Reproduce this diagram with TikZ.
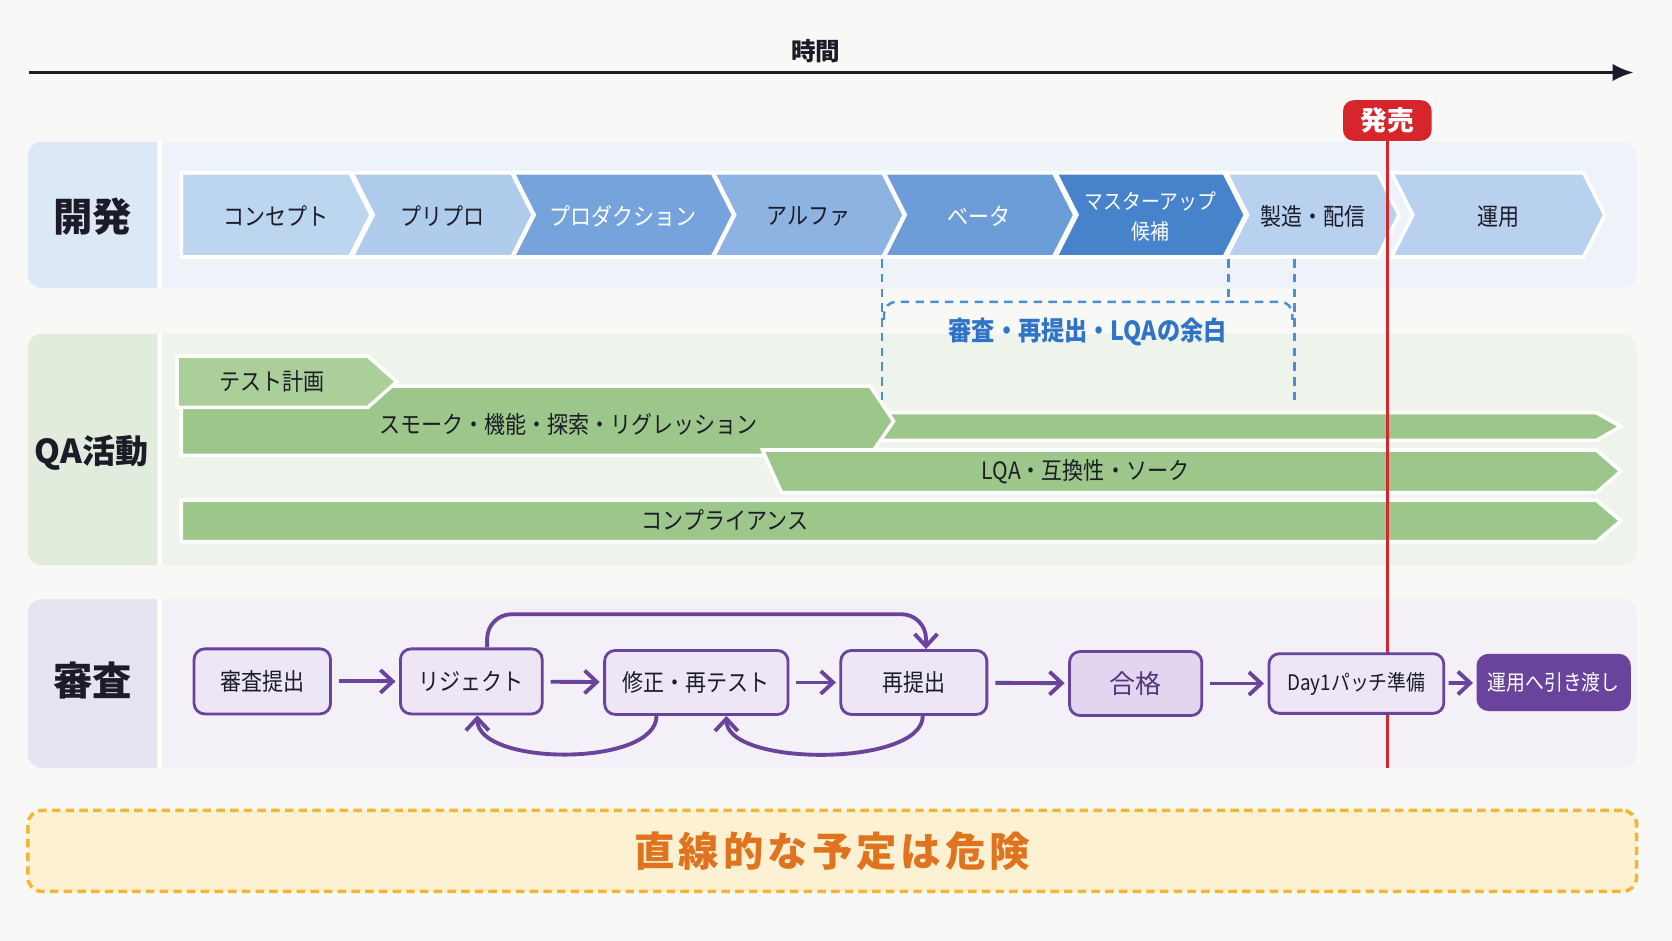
\documentclass[tikz,border=0pt]{standalone}
\usepackage{fontspec}
\setmainfont{Noto Sans CJK JP}[FakeStretch=0.88]
\newfontfamily\jpn{Noto Sans CJK JP}
\newfontfamily\jpw{Noto Sans CJK JP}[LetterSpace=10]
\usepackage{tikz}
\usetikzlibrary{arrows.meta}
\usepackage{xcolor}
\definecolor{bgc}{HTML}{F8F8F6}
\definecolor{ink}{HTML}{1C1C28}
\definecolor{devL}{HTML}{DCE8F6}
\definecolor{devR}{HTML}{EEF3FA}
\definecolor{qaL}{HTML}{E1ECDD}
\definecolor{qaR}{HTML}{EEF4EC}
\definecolor{revL}{HTML}{E8E3F0}
\definecolor{revR}{HTML}{F4F0F7}
\definecolor{ph1}{HTML}{BDD6EF}
\definecolor{ph2}{HTML}{B0CCEC}
\definecolor{ph3}{HTML}{76A3DB}
\definecolor{ph4}{HTML}{8DB3E2}
\definecolor{ph5}{HTML}{6D9DD8}
\definecolor{ph6}{HTML}{4683CB}
\definecolor{ph7}{HTML}{B7D1EE}
\definecolor{qag}{HTML}{9CC68A}
\definecolor{qag2}{HTML}{AACF98}
\definecolor{pur}{HTML}{6A449C}
\definecolor{revbox}{HTML}{EDE6F5}
\definecolor{passc}{HTML}{E1D5EF}
\definecolor{launchc}{HTML}{D7262B}
\definecolor{gapc}{HTML}{4A8ED8}
\definecolor{gaptx}{HTML}{2F74C6}
\definecolor{amber}{HTML}{F2B632}
\definecolor{cream}{HTML}{FDF1D4}
\definecolor{orng}{HTML}{E0731E}
\newcommand{\pxu}{0.3034pt}

\begin{document}
\begin{tikzpicture}[x=0.010663cm, y=-0.010663cm, every node/.style={inner sep=0pt, font=\fontsize{6.8}{8.5}\selectfont}]
\tikzset{band label/.style={font=\jpn\bfseries\fontsize{11.2}{13}\selectfont, text=ink}}
\tikzset{phase/.style={draw=white, line width=1pt}}
\tikzset{qabar/.style={fill=qag, draw=white, line width=1pt}}
\tikzset{gapline/.style={draw=gapc, dash pattern=on 2.4pt off 1.8pt, line width=0.7pt}}
\tikzset{rv/.style={draw=pur, fill=revbox, line width=0.8pt, rounded corners=3pt, minimum height=61*\pxu, text=ink}}
\tikzset{flow/.style={draw=pur, line width=1.1pt, -{Straight Barb[length=3.5pt,width=6.5pt]}}}
\fill[bgc] (0,0) rectangle (1568,882);
\coordinate (t0) at (27,68);
\coordinate (t1) at (1532,68);
\draw[ink, line width=0.9pt, -{Latex[length=6pt,width=5pt]}] (t0) -- (t1);
\node[font=\jpn\bfseries\fontsize{7}{8}\selectfont, text=ink] (time) at (765,48) {時間};
\foreach \ya/\yb/\cl/\cr in {133/270/devL/devR, 313/530/qaL/qaR, 562/720/revL/revR} {
  \begin{scope}
    \clip[rounded corners=4pt] (26,\ya) rectangle (1535,\yb);
    \fill[\cr] (26,\ya) rectangle (1535,\yb);
    \fill[\cl] (26,\ya) rectangle (147,\yb);
  \end{scope}
  \draw[white, line width=1.2pt] (150,\ya) -- (150,\yb);
}
\node[band label] (dev) at (87,203) {開発};
\node[band label, font=\jpn\bfseries\fontsize{9.4}{11}\selectfont] (qa) at (86,425) {QA活動};
\node[band label] (rev) at (87,638) {審査};
\foreach \xa/\xb/\dd/\col/\tc/\fs/\nm/\lbl in {
  170/348/0/ph1/ink/6.8/p1/コンセプト,
  330/500/20/ph2/ink/6.8/p2/プリプロ,
  481/688/20/ph3/white/6.8/p3/プロダクション,
  669/848/20/ph4/ink/6.8/p4/アルファ,
  829/1008/20/ph5/white/6.8/p5/ベータ,
  990/1168/20/ph6/white/6.1/p6/マスターアップ\\候補,
  1150/1312/20/ph7/ink/6.8/p7/製造・配信,
  1305/1505/20/ph7/ink/6.8/p8/運用} {
  \filldraw[phase, fill=\col] (\xa,162) -- (\xb-20,162) -- (\xb,201.5) -- (\xb-20,241) -- (\xa,241) -- (\xa+\dd,201.5) -- cycle;
  \node[align=center, text=\tc, font=\fontsize{\fs}{8.5}\selectfont] (\nm) at ({(\xa+\xb)/2},203) {\lbl};
}
\filldraw[qabar] (822,387) -- (1497,387) -- (1520,400) -- (1497,413) -- (822,413) -- cycle;
\filldraw[qabar] (170,362) -- (816,362) -- (838,395) -- (816,427) -- (170,427) -- cycle;
\node[text=ink] (smoke) at (533,398) {スモーク・機能・探索・リグレッション};
\filldraw[qabar, fill=qag2] (166,334) -- (345,334) -- (372,358) -- (345,382) -- (166,382) -- cycle;
\node[text=ink] (plan) at (255,358) {テスト計画};
\filldraw[qabar] (715,422) -- (1497,422) -- (1520,442) -- (1497,462) -- (733,462) -- cycle;
\node[text=ink] (lqa) at (1018,442) {LQA・互換性・ソーク};
\filldraw[qabar] (170,469) -- (1497,469) -- (1520,488.5) -- (1497,508) -- (170,508) -- cycle;
\node[text=ink] (comp) at (680,488) {コンプライアンス};
\draw[gapline] (827,243) -- (827,381);
\draw[gapline] (1214,243) -- (1214,380);
\draw[gapline] (1152,243) -- (1152,283);
\draw[gapline, rounded corners=3.5pt] (829,300) -- (829,283) -- (1212,283) -- (1212,300);
\node[font=\bfseries\fontsize{7.5}{9}\selectfont, text=gaptx] (margin) at (1020,311) {審査・再提出・LQAの余白};
\node[fill=launchc, rounded corners=3pt, minimum width=83*\pxu, minimum height=38*\pxu, text=white, font=\jpn\bfseries\fontsize{7.6}{9}\selectfont] (launch) at (1301,113) {発売};
\coordinate (lend) at (1302,720);
\draw[launchc, line width=0.9pt] (launch.south) -- (launch.south |- lend);
\node[rv, minimum width=128*\pxu] (sub) at (246,639) {審査提出};
\node[rv, minimum width=133*\pxu] (rej) at (442,639) {リジェクト};
\node[rv, minimum width=172*\pxu, minimum height=60*\pxu] (fix) at (653,640) {修正・再テスト};
\node[rv, minimum width=137*\pxu, minimum height=60*\pxu] (resub) at (857,640) {再提出};
\node[rv, minimum width=124*\pxu, minimum height=60*\pxu, fill=passc, text=pur!80!black, font=\jpn\fontsize{7.4}{9}\selectfont] (pass) at (1065,641) {合格};
\node[rv, minimum width=164*\pxu, minimum height=56*\pxu, font=\fontsize{6.1}{8}\selectfont] (day1) at (1272,641) {Day1パッチ準備};
\node[rv, fill=pur, text=white, minimum width=142*\pxu, minimum height=51*\pxu, font=\fontsize{6.1}{8}\selectfont] (ops) at (1457,640) {運用へ引き渡し};
\draw[flow, shorten <=2pt, shorten >=1pt] (sub) -- (rej);
\draw[flow, shorten <=2pt, shorten >=1pt] (rej) -- (fix);
\draw[flow, shorten <=2pt, shorten >=1pt] (fix) -- (resub);
\draw[flow, shorten <=2pt, shorten >=1pt] (resub) -- (pass);
\draw[flow, shorten <=2pt, shorten >=1pt] (pass) -- (day1);
\draw[flow, shorten <=1pt, shorten >=1pt] (day1) -- (ops);
\coordinate (loopt) at (660,576);
\draw[flow, rounded corners=7pt] (rej.65) |- (loopt) -| (resub.70);
\draw[flow] (fix.220) .. controls +(0,48) and +(0,48) .. (rej.280);
\draw[flow] (resub.285) .. controls +(0,48) and +(0,48) .. (fix.312);
\node[draw=amber, fill=cream, line width=1pt, dash pattern=on 2.4pt off 1.5pt, rounded corners=4pt, minimum width=1509*\pxu, minimum height=76*\pxu, text=orng, font=\jpw\bfseries\fontsize{11.5}{13}\selectfont] (warn) at (780.5,798) {直線的な予定は危険};
\end{tikzpicture}
\end{document}
